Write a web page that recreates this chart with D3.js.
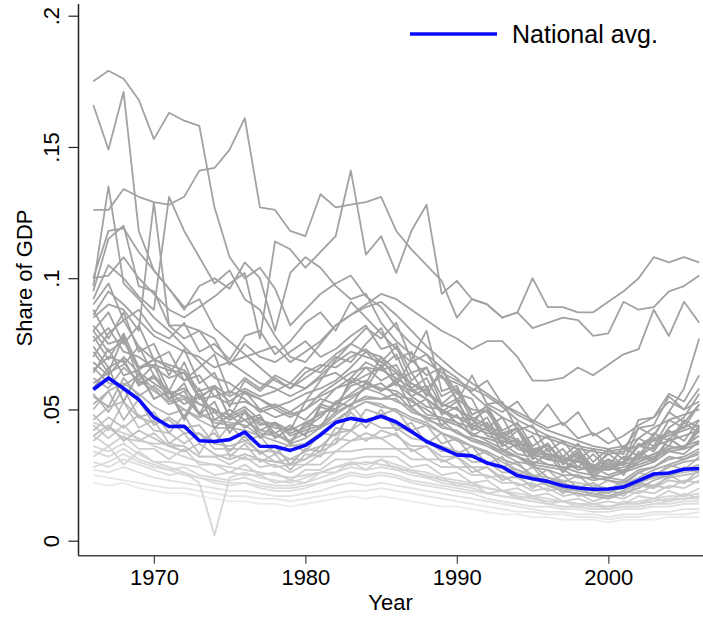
<!DOCTYPE html>
<html><head><meta charset="utf-8">
<script src="https://cdn.jsdelivr.net/npm/d3@7"></script>
<style>
body{margin:0;background:#fff}
svg{display:block}
text{font-family:"Liberation Sans", Arial, Helvetica, sans-serif;fill:#000}
</style>
</head><body>
<svg id="chart" width="703" height="618"></svg>
<script>
const years = [1966,1967,1968,1969,1970,1971,1972,1973,1974,1975,
  1976,1977,1978,1979,1980,1981,1982,1983,1984,1985,
  1986,1987,1988,1989,1990,1991,1992,1993,1994,1995,
  1996,1997,1998,1999,2000,2001,2002,2003,2004,2005,2006];

const nationalAvg = [.0576,.0620,.0580,.0538,.0470,.0435,.0436,.0381,.0378,.0385,
  .0414,.0360,.0359,.0344,.0363,.0403,.0450,.0466,.0456,.0474,
  .0452,.0416,.0378,.0353,.0327,.0323,.0296,.0281,.0248,.0236,
  .0226,.0209,.0201,.0196,.0197,.0204,.0229,.0254,.0258,.0272,.0275];

const s01 = [.175,.179,.176,.168,.153,.163,.160,.158,.127,.108, .100,.104,.096,.082,.088,.094,.098,.101,.093,.089, .081,.075,.071,.066,.062,.056,.051,.047,.044,.041, .039,.037,.035,.034,.033,.034,.036,.039,.041,.043, .046];
const s02 = [.166,.149,.171,.118,.103,.096,.089,.092,.081,.076, .071,.066,.061,.058,.062,.066,.071,.075,.072,.070, .065,.060,.057,.052,.050,.046,.043,.040,.037,.035, .033,.032,.030,.029,.028,.029,.031,.033,.035,.036, .038];
const s03 = [.126,.126,.134,.131,.129,.128,.131,.141,.142,.149, .161,.127,.126,.118,.116,.132,.127,.128,.129,.131, .118,.111,.105,.099,.085,.092,.090,.085,.087,.100, .089,.089,.087,.087,.091,.095,.100,.108,.106,.108, .106];
const s04 = [.100,.101,.108,.100,.094,.088,.085,.089,.093,.098, .102,.077,.114,.111,.104,.110,.116,.141,.109,.116, .102,.118,.128,.094,.099,.092,.090,.085,.087,.081, .083,.085,.084,.078,.079,.091,.088,.089,.095,.097, .101];
const s05 = [.086,.095,.090,.084,.078,.075,.072,.070,.066,.068, .070,.072,.074,.068,.072,.076,.082,.086,.090,.094, .092,.088,.084,.080,.077,.073,.076,.076,.070,.061, .061,.062,.066,.063,.067,.071,.073,.088,.078,.091, .083];
const s06 = [.097,.135,.098,.092,.085,.080,.074,.068,.062,.060, .056,.054,.050,.047,.050,.056,.060,.064,.066,.065, .062,.058,.054,.050,.047,.044,.042,.039,.036,.034, .032,.031,.030,.028,.027,.028,.030,.032,.034,.035, .037];
const s07 = [.085,.090,.088,.080,.129,.082,.077,.080,.072,.068, .064,.060,.058,.055,.058,.063,.068,.072,.070,.068, .064,.060,.056,.052,.050,.047,.044,.041,.038,.035, .033,.031,.030,.029,.028,.030,.032,.036,.038,.040, .042];
const s08 = [.092,.105,.100,.093,.088,.131,.118,.108,.098,.103, .092,.088,.078,.070,.068,.075,.082,.086,.089,.091, .086,.080,.074,.069,.064,.060,.056,.052,.048,.045, .042,.040,.038,.036,.035,.036,.039,.043,.046,.048, .050];
const s09 = [.100,.118,.119,.110,.103,.096,.088,.097,.100,.096, .106,.100,.080,.102,.108,.104,.097,.092,.094,.083, .076,.071,.068,.064,.061,.058,.055,.051,.046,.043, .040,.038,.036,.035,.034,.035,.036,.038,.040,.042, .044];
const s10 = [.080,.087,.075,.082,.069,.072,.061,.066,.071,.056, .062,.058,.063,.060,.066,.064,.070,.068,.075,.081, .069,.072,.058,.063,.054,.050,.049,.041,.043,.035, .036,.031,.033,.028,.031,.029,.036,.035,.043,.047, .056];
const s11 = [.076,.081,.072,.070,.066,.062,.064,.055,.058,.053, .057,.050,.047,.049,.046,.052,.058,.060,.063,.066, .060,.057,.054,.049,.047,.046,.040,.038,.036,.033, .031,.030,.027,.028,.025,.027,.029,.031,.035,.036, .040];
const s12 = [.070,.079,.084,.074,.069,.066,.061,.063,.055,.057, .054,.049,.051,.048,.050,.054,.052,.059,.061,.057, .060,.055,.051,.050,.045,.043,.041,.040,.035,.033, .031,.030,.028,.027,.028,.026,.030,.033,.036,.035, .042];
const s14 = [.065,.070,.068,.060,.062,.057,.052,.055,.049,.048, .051,.046,.044,.041,.043,.047,.053,.055,.058,.060, .055,.054,.048,.047,.045,.040,.039,.037,.033,.032, .029,.028,.026,.025,.024,.026,.028,.030,.034,.033, .038];
const s15 = [.060,.064,.067,.074,.063,.057,.055,.052,.050,.046, .049,.044,.045,.040,.042,.044,.049,.052,.055,.054, .056,.050,.047,.046,.041,.039,.037,.034,.032,.029, .028,.027,.024,.024,.023,.022,.026,.028,.031,.032, .035];
const s16 = [.055,.051,.062,.055,.059,.054,.050,.047,.049,.043, .046,.042,.041,.038,.044,.049,.050,.054,.058,.056, .053,.051,.046,.044,.041,.038,.036,.033,.030,.029, .024,.022,.020,.019,.018,.021,.024,.027,.029,.031, .033];
const s17 = [.072,.064,.078,.061,.067,.054,.060,.048,.053,.041, .049,.039,.045,.042,.053,.061,.069,.075,.081,.077, .083,.069,.063,.066,.056,.054,.043,.047,.037,.040, .031,.035,.028,.033,.027,.032,.031,.039,.036,.045, .041];
const s18 = [.088,.077,.087,.072,.075,.063,.073,.060,.064,.051, .061,.057,.062,.058,.064,.067,.066,.070,.073,.068, .074,.061,.066,.052,.057,.046,.050,.039,.043,.034, .037,.030,.035,.028,.033,.029,.037,.034,.042,.038, .046];
const s19 = [.062,.058,.066,.061,.057,.053,.055,.048,.046,.045, .044,.040,.041,.037,.039,.043,.046,.050,.053,.051, .050,.047,.045,.041,.039,.036,.034,.031,.029,.025, .022,.020,.019,.018,.017,.019,.022,.025,.028,.030, .031];
const s20 = [.068,.063,.070,.064,.060,.056,.058,.052,.050,.046, .049,.045,.043,.042,.045,.048,.052,.056,.060,.058, .057,.053,.050,.046,.044,.041,.038,.035,.032,.030, .029,.028,.028,.027,.027,.030,.036,.040,.049,.058, .077];
const s21 = [.080,.072,.076,.066,.069,.057,.068,.054,.059,.047, .057,.054,.051,.053,.056,.058,.061,.066,.072,.066, .071,.058,.062,.051,.054,.043,.047,.037,.042,.032, .037,.029,.034,.027,.034,.033,.046,.047,.056,.053, .063];
const s22 = [.058,.066,.053,.064,.054,.057,.046,.056,.043,.048, .043,.047,.041,.044,.040,.051,.049,.062,.060,.070, .061,.064,.055,.066,.053,.063,.052,.053,.042,.044, .034,.038,.031,.035,.028,.036,.032,.041,.038,.046, .043];
const s23 = [.052,.057,.060,.056,.051,.048,.050,.046,.043,.043, .042,.040,.038,.036,.037,.041,.045,.050,.053,.052, .049,.046,.044,.041,.038,.036,.033,.030,.027,.024, .021,.019,.018,.017,.016,.018,.020,.023,.025,.027, .029];
const s24 = [.064,.073,.063,.065,.054,.057,.047,.058,.046,.050, .046,.048,.039,.043,.040,.052,.050,.061,.058,.067, .059,.069,.080,.057,.059,.048,.051,.040,.043,.033, .037,.029,.033,.026,.031,.026,.034,.031,.039,.035, .043];
const s25 = [.074,.066,.069,.059,.063,.054,.057,.048,.059,.047, .050,.042,.045,.037,.045,.043,.053,.051,.060,.057, .061,.051,.054,.044,.048,.040,.043,.034,.037,.029, .033,.026,.031,.024,.029,.030,.043,.044,.055,.050, .053];
const s26 = [.082,.075,.077,.065,.069,.067,.065,.057,.059,.055, .058,.055,.057,.060,.058,.062,.064,.060,.066,.061, .064,.055,.058,.049,.053,.044,.052,.049,.053,.045, .052,.044,.049,.040,.043,.035,.043,.040,.049,.045, .052];
const s27 = [.050,.057,.046,.054,.044,.047,.043,.044,.037,.044, .038,.040,.033,.037,.034,.041,.040,.049,.043,.050, .042,.045,.037,.041,.033,.036,.029,.032,.025,.028, .022,.025,.020,.022,.019,.023,.021,.026,.024,.028, .026];
const s28 = [.046,.051,.053,.047,.045,.046,.041,.041,.037,.036, .038,.034,.034,.031,.034,.036,.041,.042,.046,.043, .043,.039,.038,.034,.034,.030,.030,.026,.026,.023, .023,.020,.021,.019,.019,.020,.022,.021,.024,.025, .026];
const s29 = [.042,.047,.043,.048,.042,.041,.037,.041,.035,.035, .035,.034,.030,.031,.031,.036,.037,.042,.038,.042, .040,.036,.036,.032,.032,.028,.028,.024,.024,.021, .022,.019,.020,.017,.019,.018,.021,.020,.023,.022, .025];
const s30 = [.056,.049,.058,.047,.049,.041,.048,.038,.041,.034, .040,.033,.036,.029,.035,.034,.043,.042,.050,.048, .050,.042,.044,.037,.039,.032,.034,.028,.030,.024, .027,.022,.025,.020,.023,.021,.026,.024,.029,.027, .032];
const s31 = [.038,.043,.039,.038,.041,.036,.036,.032,.032,.033, .031,.031,.028,.029,.029,.033,.034,.038,.039,.039, .035,.035,.031,.031,.028,.028,.024,.025,.021,.022, .019,.020,.017,.018,.016,.019,.018,.021,.020,.023, .022];
const s32 = [.048,.042,.053,.043,.046,.037,.041,.033,.043,.032, .037,.030,.033,.027,.033,.032,.039,.038,.041,.039, .041,.034,.036,.030,.032,.026,.028,.023,.025,.020, .023,.018,.021,.017,.020,.017,.022,.020,.025,.022, .027];
const s33 = [.044,.039,.044,.038,.037,.037,.036,.032,.032,.029, .032,.028,.029,.026,.029,.029,.034,.034,.035,.035, .035,.031,.031,.028,.028,.025,.025,.022,.022,.019, .020,.017,.018,.015,.017,.016,.019,.018,.021,.020, .023];
const s34 = [.036,.034,.037,.033,.030,.028,.026,.022,.002,.024, .026,.024,.023,.022,.024,.026,.028,.030,.029,.031, .029,.027,.026,.024,.023,.022,.020,.019,.018,.017, .016,.015,.014,.014,.013,.014,.015,.016,.017,.017, .018];
const s35 = [.040,.036,.040,.035,.035,.031,.035,.029,.029,.026, .029,.025,.026,.023,.027,.027,.031,.031,.032,.032, .032,.028,.029,.025,.026,.022,.023,.019,.020,.017, .018,.015,.016,.014,.015,.014,.017,.016,.019,.017, .020];
const s36 = [.034,.032,.035,.031,.029,.027,.028,.025,.024,.023, .024,.022,.021,.021,.022,.024,.026,.028,.027,.028, .027,.025,.024,.022,.021,.020,.018,.017,.016,.015, .014,.013,.013,.012,.012,.013,.013,.014,.015,.016, .016];
const s37 = [.030,.028,.031,.029,.027,.025,.026,.024,.022,.021, .022,.020,.019,.019,.020,.022,.023,.025,.024,.025, .024,.022,.021,.020,.019,.018,.016,.015,.014,.013, .013,.012,.012,.011,.011,.012,.012,.013,.013,.014, .014];
const s38 = [.027,.026,.028,.026,.024,.023,.022,.021,.020,.019, .019,.018,.017,.017,.018,.019,.021,.022,.021,.022, .021,.020,.019,.018,.017,.016,.015,.014,.013,.012, .011,.011,.010,.010,.009,.010,.010,.011,.011,.012, .012];
const s39 = [.025,.024,.023,.022,.021,.020,.020,.019,.018,.017, .017,.016,.016,.015,.016,.017,.018,.019,.019,.020, .019,.018,.017,.016,.015,.014,.013,.012,.011,.011, .010,.010,.009,.009,.008,.009,.009,.010,.010,.010, .011];
const s40 = [.022,.021,.022,.020,.019,.018,.018,.017,.016,.015, .015,.014,.014,.013,.014,.015,.016,.017,.016,.017, .016,.015,.014,.013,.013,.012,.011,.010,.010,.009, .009,.008,.008,.008,.007,.008,.008,.008,.009,.009, .009];
const s41 = [.045,.043,.041,.039,.036,.034,.032,.030,.029,.028, .027,.026,.025,.024,.025,.026,.028,.029,.030,.029, .028,.026,.025,.023,.022,.021,.020,.019,.017,.016, .015,.015,.014,.013,.013,.014,.014,.015,.016,.016, .017];
const s42 = [.032,.036,.029,.034,.030,.030,.029,.028,.025,.026, .025,.025,.022,.023,.022,.026,.026,.030,.027,.031, .027,.027,.024,.024,.021,.022,.018,.019,.016,.017, .014,.015,.013,.014,.012,.015,.014,.016,.015,.018, .016];
const s43 = [.040,.044,.038,.042,.039,.036,.034,.037,.033,.031, .033,.031,.030,.029,.031,.034,.037,.052,.045,.048, .044,.041,.038,.036,.034,.032,.030,.028,.027,.025, .024,.023,.022,.021,.020,.021,.022,.024,.025,.026, .027];
const s44 = [.028,.030,.033,.030,.028,.027,.025,.024,.023,.022, .022,.021,.020,.020,.021,.022,.024,.026,.025,.026, .025,.023,.022,.021,.020,.019,.018,.017,.016,.015, .014,.013,.013,.012,.012,.013,.013,.014,.014,.015, .015];
const s45 = [.078,.069,.079,.066,.067,.065,.064,.054,.055,.052, .053,.050,.052,.049,.053,.055,.058,.062,.068,.065, .067,.057,.059,.048,.051,.042,.045,.036,.039,.031, .035,.027,.032,.025,.030,.025,.033,.030,.039,.035, .044];
const s46 = [.066,.060,.059,.063,.058,.052,.054,.049,.045,.044, .046,.041,.040,.038,.041,.043,.048,.052,.054,.054, .054,.049,.047,.043,.042,.038,.037,.033,.032,.028, .027,.025,.025,.023,.024,.023,.027,.028,.032,.031, .034];
const s47 = [.095,.115,.120,.097,.095,.082,.082,.080,.077,.067, .075,.070,.068,.072,.076,.070,.073,.078,.082,.073, .075,.064,.066,.055,.058,.048,.051,.042,.045,.036, .040,.032,.037,.030,.035,.031,.039,.036,.046,.043, .052];
const s48 = [.090,.098,.084,.088,.080,.077,.083,.072,.075,.069, .078,.080,.071,.076,.083,.087,.080,.091,.085,.079, .073,.068,.071,.062,.060,.057,.061,.052,.049,.046, .043,.045,.039,.041,.037,.040,.044,.047,.053,.050, .058];

const stateSeries = [s01,s02,s03,s04,s05,s06,s07,s08,s09,s10,s11,s12,s14,s15,s16,s17,s18,s19,s20,
  s21,s22,s23,s24,s25,s26,s27,s28,s29,s30,s31,s32,s33,s34,s35,s36,s37,s38,s39,s40,s41,s42,s43,s44,s45,s46,s47,s48];

const xTicks = [1970,1980,1990,2000];
const yTicks = [0,.05,.1,.15,.2];
const yTickLabels = ["0",".05",".1",".15",".2"];
const legendLabel = "National avg.";
const xTitle = "Year";
const yTitle = "Share of GDP";

const svg = d3.select("#chart");
const x = d3.scaleLinear().domain([1966,2006]).range([93.3,699.2]);
const y = d3.scaleLinear().domain([0,.2]).range([540.7,15.7]);
const axisLeftX = 78.5, axisBottomY = 555.7;

const grey = d3.scaleLinear().domain([.013,.045]).range(["#ececec","#a2a2a2"]).clamp(true);

const line = d3.line()
  .defined(d => d[1] != null)
  .x(d => x(d[0])).y(d => y(d[1]));

const ordered = stateSeries.map(s => ({vals: s, m: d3.mean(s)})).sort((a,b) => a.m - b.m);
svg.append("g").selectAll("path").data(ordered).join("path")
  .attr("d", d => line(years.map((yr,i) => [yr, d.vals[i]])))
  .attr("fill","none")
  .attr("stroke", d => grey(d.m))
  .attr("stroke-width",1.8)
  .attr("stroke-linejoin","round");

svg.append("path")
  .attr("d", line(years.map((yr,i) => [yr, nationalAvg[i]])))
  .attr("fill","none").attr("stroke","#0a0aff").attr("stroke-width",3.6)
  .attr("stroke-linejoin","round");

// x axis
const gx = svg.append("g").attr("transform",`translate(0,${axisBottomY})`)
  .call(d3.axisBottom(x).tickValues(xTicks).tickFormat(d3.format("d")).tickSize(8).tickPadding(6).tickSizeOuter(0));
gx.select(".domain").remove();
gx.selectAll(".tick line").attr("stroke","#444").attr("stroke-width",1.2);
gx.selectAll(".tick text").attr("font-size",22).attr("font-family",'"Liberation Sans", Arial, sans-serif').attr("fill","#000");
svg.append("line").attr("x1",axisLeftX).attr("x2",703).attr("y1",axisBottomY).attr("y2",axisBottomY)
  .attr("stroke","#444").attr("stroke-width",1.5);

// y axis
const gy = svg.append("g").attr("transform",`translate(${axisLeftX},0)`)
  .call(d3.axisLeft(y).tickValues(yTicks).tickFormat((d,i) => yTickLabels[i]).tickSize(10).tickSizeOuter(0));
gy.select(".domain").remove();
gy.selectAll(".tick line").attr("stroke","#222").attr("stroke-width",1.2);
gy.selectAll(".tick text")
  .attr("font-size",22).attr("font-family",'"Liberation Sans", Arial, sans-serif').attr("fill","#000")
  .attr("x",0).attr("dy",0)
  .attr("text-anchor","middle")
  .attr("transform","translate(-20,0) rotate(-90)");
svg.append("line").attr("x1",axisLeftX).attr("x2",axisLeftX).attr("y1",4).attr("y2",axisBottomY)
  .attr("stroke","#222").attr("stroke-width",1.5);

// titles
svg.append("text").attr("x",390.5).attr("y",610).attr("text-anchor","middle")
  .attr("font-size",22).text(xTitle);
svg.append("text").attr("transform","translate(32,278) rotate(-90)").attr("text-anchor","middle")
  .attr("font-size",22).text(yTitle);

// legend
svg.append("line").attr("x1",410).attr("x2",497).attr("y1",34).attr("y2",34)
  .attr("stroke","#0a0aff").attr("stroke-width",3.6);
svg.append("text").attr("x",512).attr("y",43).attr("font-size",25).text(legendLabel);
</script>
</body></html>
